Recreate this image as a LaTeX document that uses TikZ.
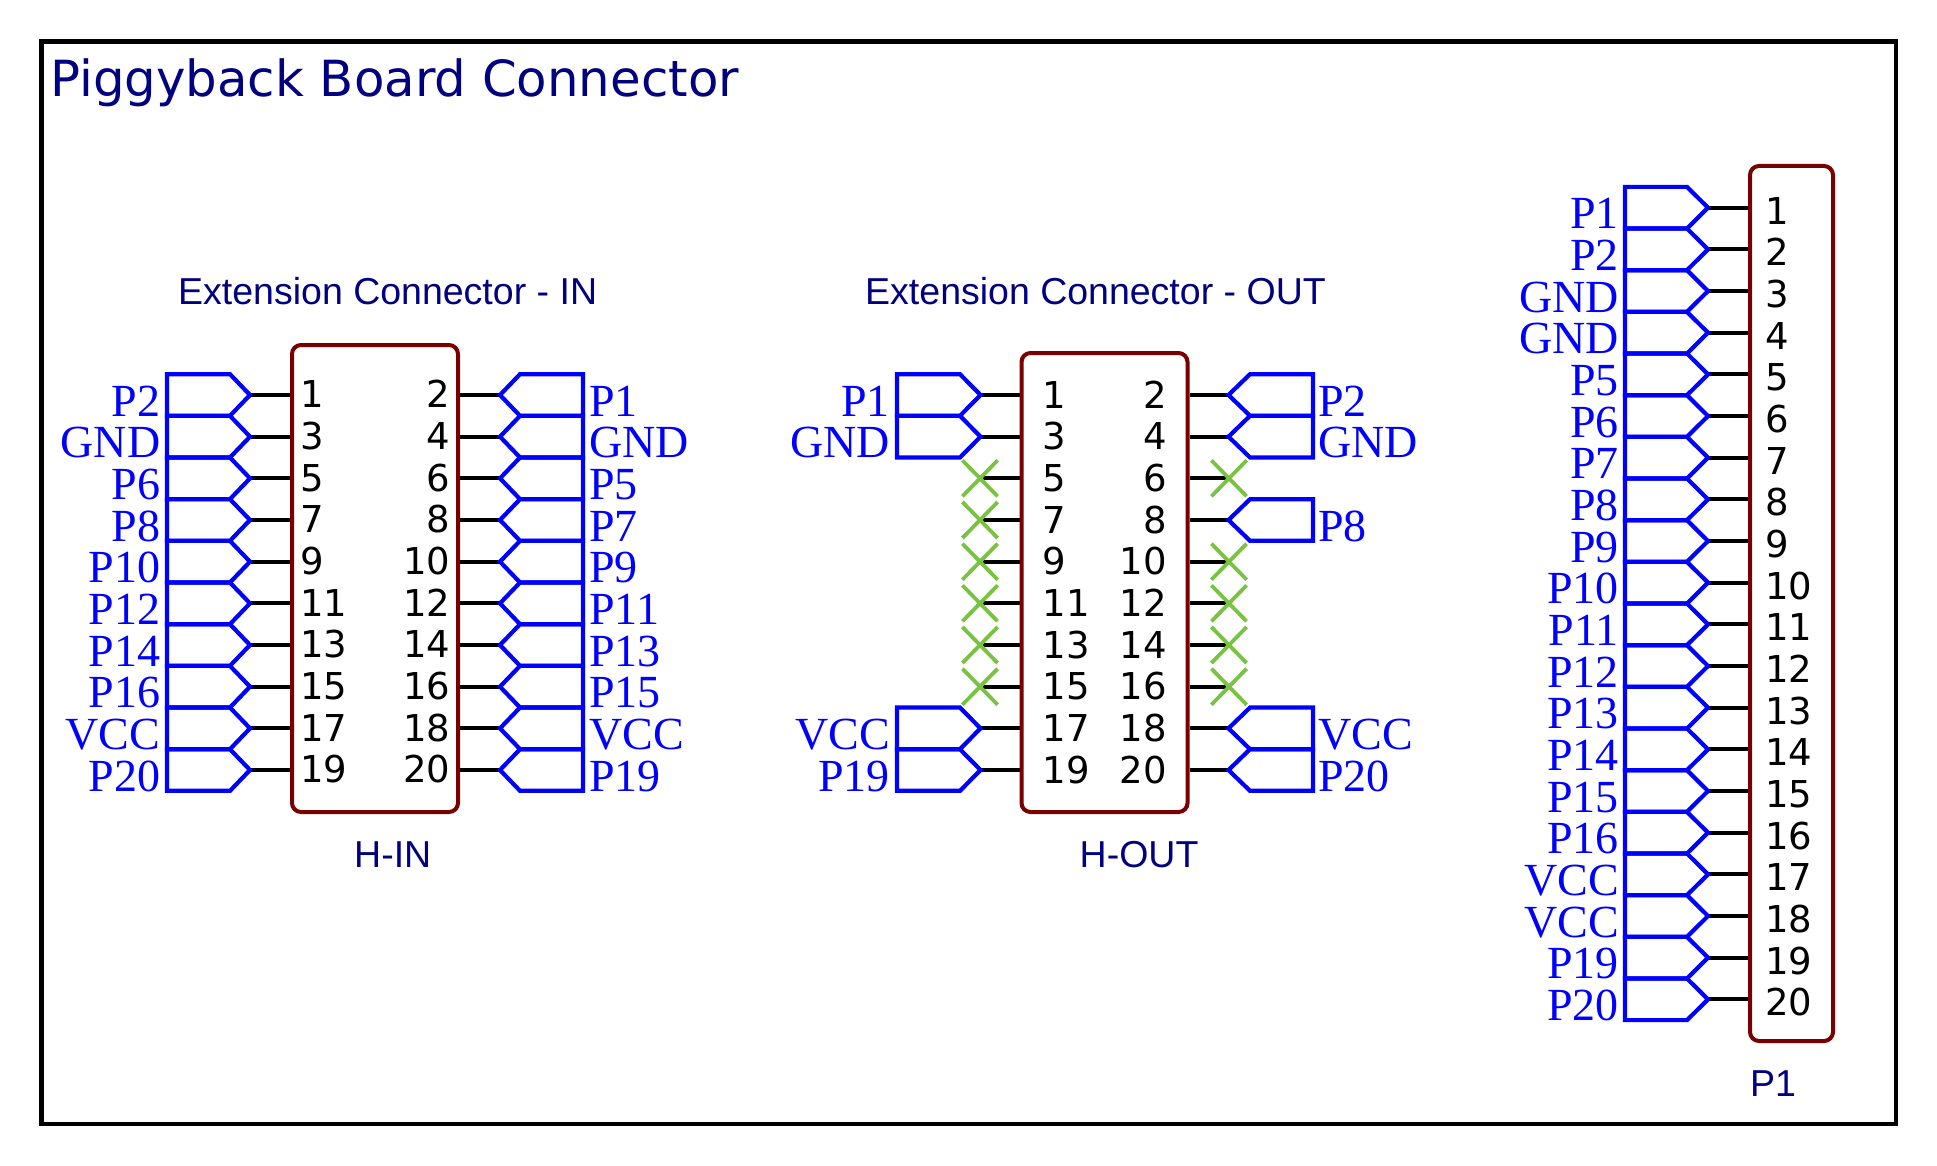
\documentclass[tikz,border=0pt]{standalone}
\usepackage{fontspec}
\setmainfont{Liberation Serif}
\newfontfamily\pinfont{DejaVu Sans}
\newfontfamily\capfont{Liberation Sans}
\definecolor{netblue}{RGB}{0,0,255}
\definecolor{txtnavy}{RGB}{0,0,128}
\definecolor{boxred}{RGB}{120,0,0}
\definecolor{ncgreen}{RGB}{122,194,66}
\tikzset{
  x=1pt,y=-1pt,
  framebox/.style={draw=black,line width=4.4pt,line join=miter},
  chip/.style={draw=boxred,line width=4pt,rounded corners=9pt},
  wire/.style={draw=black,line width=4pt},
  port/.style={draw=netblue,line width=4.2pt,line join=miter},
  ncmark/.style={draw=ncgreen,line width=3.8pt},
  netlabel/.style={inner sep=0pt,text=netblue,font=\fontsize{46}{50}\selectfont},
  pinnum/.style={inner sep=0pt,text=black,font=\pinfont\fontsize{37}{40}\selectfont},
  capt/.style={inner sep=0pt,text=txtnavy,font=\capfont\fontsize{37.5}{40}\selectfont,anchor=base west},
  titletext/.style={inner sep=0pt,text=txtnavy,font=\pinfont\fontsize{49.8}{55}\selectfont,anchor=base west},
}
% #1 name, #2 y, #3 pin x, #4 tip x, #5 shoulder x, #6 back x, #7 label anchor, #8 label x, #9 text
\newcommand{\netport}[9]{%
  \coordinate (#1pin) at (#3,#2);
  \coordinate (#1tip) at (#4,#2);
  \draw[wire] (#1pin) -- (#1tip);
  \draw[port] (#6,#2-20.8) -- (#5,#2-20.8) -- (#1tip) -- (#5,#2+20.8) -- (#6,#2+20.8) -- cycle;
  \node[netlabel,anchor=#7] (#1lab) at (#8,#2+21) {#9};
}
% #1 name, #2 y, #3 pin x, #4 cross centre x
\newcommand{\ncport}[4]{%
  \coordinate (#1pin) at (#3,#2);
  \coordinate (#1nc) at (#4,#2);
  \coordinate (#1a) at (#4-17.6,#2-18);
  \coordinate (#1b) at (#4+17.6,#2+18);
  \coordinate (#1c) at (#4-17.6,#2+18);
  \coordinate (#1d) at (#4+17.6,#2-18);
  \draw[wire,shorten >=3pt] (#1pin) -- (#1nc);
  \draw[ncmark] (#1a) -- (#1b);
  \draw[ncmark] (#1c) -- (#1d);
}
\begin{document}
\begin{tikzpicture}
\useasboundingbox (0,0) rectangle (1937,1166);
\coordinate (fa) at (41.5,41.5);
\coordinate (fb) at (1896,1124);
\draw[framebox] (fa) rectangle (fb);
\node[titletext] (title) at (50,97) {Piggyback Board Connector};
\node[capt] (capin) at (178,304) {Extension Connector - IN};
\node[capt] (capout) at (865,304) {Extension Connector - OUT};
\node[capt] (namein) at (354,867) {H-IN};
\node[capt] (nameout) at (1079.5,867) {H-OUT};
\node[capt] (namep) at (1750,1096) {P1};

% H-IN
\foreach \t [count=\i from 0] in {P2,GND,P6,P8,P10,P12,P14,P16,VCC,P20}{
  \pgfmathsetmacro{\yy}{395+41.67*\i}
  \pgfmathtruncatemacro{\nn}{2*\i+1}
  \netport{inl\i}{\yy}{292}{250}{230}{167}{base east}{160.5}{\t}
  \node[pinnum,anchor=base west] (inln\i) at (300,\yy+12.8) {\nn};
}
\foreach \t [count=\i from 0] in {P1,GND,P5,P7,P9,P11,P13,P15,VCC,P19}{
  \pgfmathsetmacro{\yy}{395+41.67*\i}
  \pgfmathtruncatemacro{\nn}{2*\i+2}
  \netport{inr\i}{\yy}{458}{500}{520}{583}{base west}{589}{\t}
  \node[pinnum,anchor=base east] (inrn\i) at (450.5,\yy+12.8) {\nn};
}
\draw[chip] (292,345) rectangle (458,812);

% H-OUT
\foreach \t/\i in {P1/0,GND/1,VCC/8,P19/9}{
  \pgfmathsetmacro{\yy}{395+41.67*\i}
  \netport{outl\i}{\yy}{1022}{980.5}{960}{897}{base east}{890}{\t}
}
\foreach \t/\i in {P2/0,GND/1,P8/3,VCC/8,P20/9}{
  \pgfmathsetmacro{\yy}{395+41.67*\i}
  \netport{outr\i}{\yy}{1190}{1228.5}{1250}{1313}{base west}{1318}{\t}
}
\foreach \i in {2,3,4,5,6,7}{
  \pgfmathsetmacro{\yy}{395+41.67*\i}
  \ncport{ncl\i}{\yy}{1022}{980}
}
\foreach \i in {2,4,5,6,7}{
  \pgfmathsetmacro{\yy}{395+41.67*\i}
  \ncport{ncr\i}{\yy}{1190}{1229}
}
\foreach \i in {0,...,9}{
  \pgfmathsetmacro{\yy}{395+41.67*\i}
  \pgfmathtruncatemacro{\nn}{2*\i+1}
  \pgfmathtruncatemacro{\mm}{2*\i+2}
  \node[pinnum,anchor=base west] (outln\i) at (1042.5,\yy+13) {\nn};
  \node[pinnum,anchor=base east] (outrn\i) at (1167,\yy+13) {\mm};
}
\draw[chip] (1021.5,353) rectangle (1187.5,812);

% P1
\foreach \t [count=\i from 0] in {P1,P2,GND,GND,P5,P6,P7,P8,P9,P10,P11,P12,P13,P14,P15,P16,VCC,VCC,P19,P20}{
  \pgfmathsetmacro{\yy}{207.7+41.665*\i}
  \pgfmathtruncatemacro{\nn}{\i+1}
  \netport{p\i}{\yy}{1750}{1708}{1687}{1625}{base east}{1619}{\t}
  \node[pinnum,anchor=base west] (pn\i) at (1765,\yy+16.6) {\nn};
}
\draw[chip] (1750,166) rectangle (1833,1041);
\end{tikzpicture}
\end{document}
